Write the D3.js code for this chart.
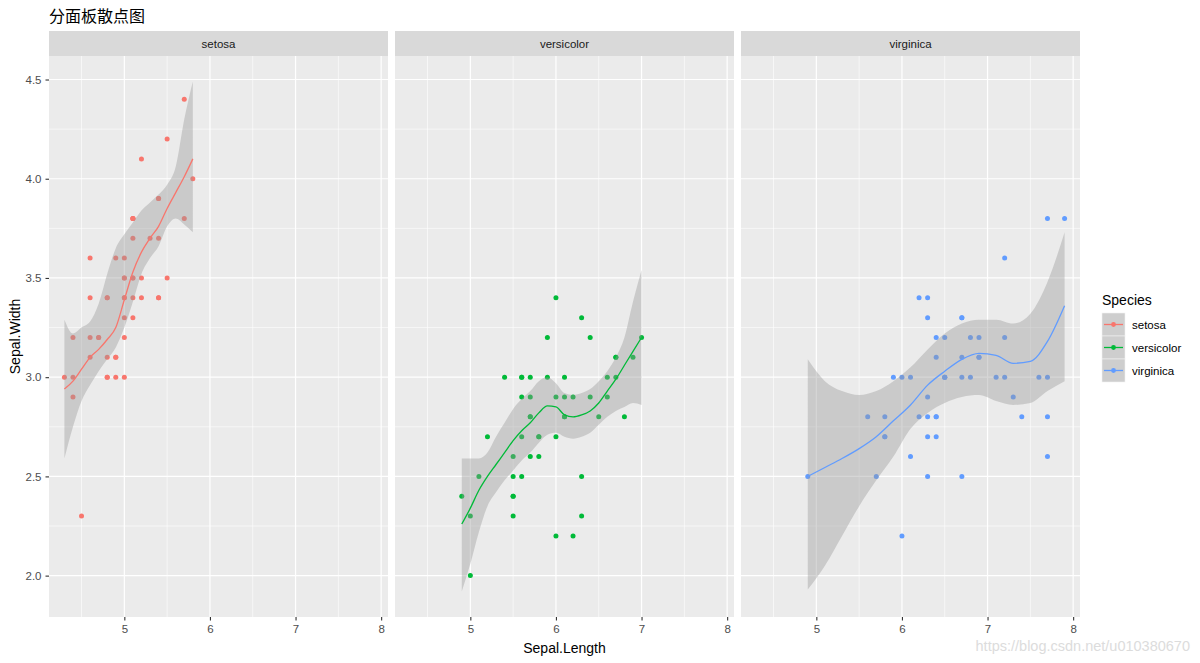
<!DOCTYPE html>
<html>
<head>
<meta charset="utf-8">
<script src="https://cdn.jsdelivr.net/npm/d3@7"></script>
<style>
  body { margin: 0; background: #fff; }
  svg text { font-family: "Liberation Sans", Arial, sans-serif; }
</style>
</head>
<body>
<div id="vis-container"></div>
<script>
// iris: Sepal.Length / Sepal.Width per species
const setosaLength = [5.1,4.9,4.7,4.6,5.0,5.4,4.6,5.0,4.4,4.9,5.4,4.8,4.8,4.3,5.8,5.7,5.4,5.1,5.7,5.1,5.4,5.1,4.6,5.1,4.8,5.0,5.0,5.2,5.2,4.7,4.8,5.4,5.2,5.5,4.9,5.0,5.5,4.9,4.4,5.1,5.0,4.5,4.4,5.0,5.1,4.8,5.1,4.6,5.3,5.0];
const setosaWidth  = [3.5,3.0,3.2,3.1,3.6,3.9,3.4,3.4,2.9,3.1,3.7,3.4,3.0,3.0,4.0,4.4,3.9,3.5,3.8,3.8,3.4,3.7,3.6,3.3,3.4,3.0,3.4,3.5,3.4,3.2,3.1,3.4,4.1,4.2,3.1,3.2,3.5,3.6,3.0,3.4,3.5,2.3,3.2,3.5,3.8,3.0,3.8,3.2,3.7,3.3];
const versicolorLength = [7.0,6.4,6.9,5.5,6.5,5.7,6.3,4.9,6.6,5.2,5.0,5.9,6.0,6.1,5.6,6.7,5.6,5.8,6.2,5.6,5.9,6.1,6.3,6.1,6.4,6.6,6.8,6.7,6.0,5.7,5.5,5.5,5.8,6.0,5.4,6.0,6.7,6.3,5.6,5.5,5.5,6.1,5.8,5.0,5.6,5.7,5.7,6.2,5.1,5.7];
const versicolorWidth  = [3.2,3.2,3.1,2.3,2.8,2.8,3.3,2.4,2.9,2.7,2.0,3.0,2.2,2.9,2.9,3.1,3.0,2.7,2.2,2.5,3.2,2.8,2.5,2.8,2.9,3.0,2.8,3.0,2.9,2.6,2.4,2.4,2.7,2.7,3.0,3.4,3.1,2.3,3.0,2.5,2.6,3.0,2.6,2.3,2.7,3.0,2.9,2.9,2.5,2.8];
const virginicaLength = [6.3,5.8,7.1,6.3,6.5,7.6,4.9,7.3,6.7,7.2,6.5,6.4,6.8,5.7,5.8,6.4,6.5,7.7,7.7,6.0,6.9,5.6,7.7,6.3,6.7,7.2,6.2,6.1,6.4,7.2,7.4,7.9,6.4,6.3,6.1,7.7,6.3,6.4,6.0,6.9,6.7,6.9,5.8,6.8,6.7,6.7,6.3,6.5,6.2,5.9];
const virginicaWidth  = [3.3,2.7,3.0,2.9,3.0,3.0,2.5,2.9,2.5,3.6,3.2,2.7,3.0,2.5,2.8,3.2,3.0,3.8,2.6,2.2,3.2,2.8,2.8,2.7,3.3,3.2,2.8,3.0,2.8,3.0,2.8,3.8,2.8,2.8,2.6,3.0,3.4,3.1,3.0,3.1,3.1,3.1,2.7,3.2,3.3,3.0,2.5,3.0,3.4,3.0];

// loess smooth (fit and 95% band)
const setosaSmoothX  = [4.3,4.4,4.5,4.6,4.7,4.8,4.9,5.0,5.1,5.2,5.3,5.4,5.5,5.6,5.7,5.8];
const setosaFit      = [2.94,2.98,3.04,3.10,3.14,3.19,3.25,3.39,3.53,3.63,3.70,3.76,3.85,3.93,4.01,4.10];
const setosaUpper    = [3.29,3.22,3.25,3.28,3.37,3.52,3.65,3.72,3.78,3.84,3.88,3.92,3.97,4.06,4.30,4.49];
const setosaLower    = [2.59,2.75,2.88,2.96,3.03,3.09,3.15,3.25,3.38,3.52,3.60,3.66,3.76,3.80,3.77,3.73];

const versicolorSmoothX = [4.9,5.0,5.1,5.2,5.3,5.4,5.5,5.6,5.7,5.8,5.9,6.0,6.1,6.2,6.3,6.4,6.5,6.6,6.7,6.8,6.9,7.0];
const versicolorFit     = [2.26,2.34,2.43,2.50,2.56,2.62,2.68,2.73,2.77,2.82,2.855,2.85,2.81,2.80,2.81,2.83,2.87,2.93,2.99,3.06,3.13,3.20];
const versicolorUpper   = [2.59,2.59,2.59,2.62,2.70,2.77,2.84,2.89,2.93,2.98,3.00,2.97,2.92,2.91,2.92,2.94,2.98,3.03,3.10,3.20,3.38,3.54];
const versicolorLower   = [1.92,2.06,2.22,2.35,2.42,2.48,2.53,2.58,2.62,2.67,2.71,2.72,2.70,2.69,2.70,2.72,2.76,2.80,2.83,2.85,2.87,2.86];

const virginicaSmoothX = [4.9,5.1,5.3,5.5,5.7,5.9,6.1,6.3,6.5,6.7,6.9,7.1,7.3,7.5,7.7,7.9];
const virginicaFit     = [2.50,2.545,2.59,2.64,2.70,2.78,2.86,2.96,3.03,3.09,3.12,3.11,3.07,3.08,3.18,3.36];
const virginicaUpper   = [3.09,2.98,2.93,2.91,2.93,2.98,3.05,3.14,3.22,3.27,3.29,3.29,3.27,3.32,3.48,3.73];
const virginicaLower   = [1.93,2.05,2.20,2.35,2.48,2.60,2.74,2.82,2.87,2.90,2.91,2.88,2.86,2.87,2.93,2.98];

const species = ["setosa", "versicolor", "virginica"];
const colors = ["#F8766D", "#00BA38", "#619CFF"];
const xTicks = [5, 6, 7, 8];
const yTicks = [2.0, 2.5, 3.0, 3.5, 4.0, 4.5];

const panels = [
  { name: "setosa", xs: setosaLength, ys: setosaWidth, sx: setosaSmoothX, fit: setosaFit, lo: setosaLower, hi: setosaUpper },
  { name: "versicolor", xs: versicolorLength, ys: versicolorWidth, sx: versicolorSmoothX, fit: versicolorFit, lo: versicolorLower, hi: versicolorUpper },
  { name: "virginica", xs: virginicaLength, ys: virginicaWidth, sx: virginicaSmoothX, fit: virginicaFit, lo: virginicaLower, hi: virginicaUpper }
];

const W = 1200, H = 663;
const panelLeft = [49, 395, 741], panelW = 339;
const stripTop = 31, panelTop = 56, panelBottom = 617;

const svg = d3.select("#vis-container")
  .append("svg")
    .attr("width", W)
    .attr("height", H);

// shared scales (ggplot default 5% expansion)
const allX = panels.flatMap(p => p.xs);
const allY = panels.flatMap(p => p.ys.concat(p.lo, p.hi));
const [x0, x1] = d3.extent(allX), [y0, y1] = d3.extent(allY);
const xPad = (x1 - x0) * 0.05, yPad = (y1 - y0) * 0.05;

const y = d3.scaleLinear()
  .domain([y0 - yPad, y1 + yPad])
  .range([panelBottom, panelTop]);

// Title
svg.append("text")
  .attr("x", 49)
  .attr("y", 22)
  .style("font-family", "'Noto Sans CJK SC', sans-serif")
  .style("font-size", "16px")
  .attr("fill", "#000")
  .text("分面板散点图");

panels.forEach((p, i) => {
  const left = panelLeft[i];
  const x = d3.scaleLinear()
    .domain([x0 - xPad, x1 + xPad])
    .range([left, left + panelW]);
  const g = svg.append("g");

  // strip
  g.append("rect")
    .attr("x", left).attr("y", stripTop)
    .attr("width", panelW).attr("height", panelTop - stripTop)
    .attr("fill", "#D9D9D9");
  g.append("text")
    .attr("x", left + panelW / 2)
    .attr("y", (stripTop + panelTop) / 2 + 4)
    .attr("text-anchor", "middle")
    .style("font-size", "11.5px")
    .attr("fill", "#1A1A1A")
    .text(p.name);

  // panel background + grid
  g.append("rect")
    .attr("x", left).attr("y", panelTop)
    .attr("width", panelW).attr("height", panelBottom - panelTop)
    .attr("fill", "#EBEBEB");

  const xMinor = d3.range(4.5, 8.01, 1);
  const yMinor = d3.range(2.25, 4.5, 0.5);
  g.selectAll(".xminor").data(xMinor).join("line")
    .attr("x1", d => x(d)).attr("x2", d => x(d))
    .attr("y1", panelTop).attr("y2", panelBottom)
    .attr("stroke", "#fff").attr("stroke-width", 0.6);
  g.selectAll(".yminor").data(yMinor).join("line")
    .attr("x1", left).attr("x2", left + panelW)
    .attr("y1", d => y(d)).attr("y2", d => y(d))
    .attr("stroke", "#fff").attr("stroke-width", 0.6);
  g.selectAll(".xmajor").data(xTicks).join("line")
    .attr("x1", d => x(d)).attr("x2", d => x(d))
    .attr("y1", panelTop).attr("y2", panelBottom)
    .attr("stroke", "#fff").attr("stroke-width", 1.2);
  g.selectAll(".ymajor").data(yTicks).join("line")
    .attr("x1", left).attr("x2", left + panelW)
    .attr("y1", d => y(d)).attr("y2", d => y(d))
    .attr("stroke", "#fff").attr("stroke-width", 1.2);

  // points
  g.selectAll(".pt").data(d3.zip(p.xs, p.ys)).join("circle")
    .attr("cx", d => x(d[0]))
    .attr("cy", d => y(d[1]))
    .attr("r", 2.5)
    .attr("fill", colors[i]);

  // smooth band + line
  const sm = p.sx.map((v, k) => ({ x: v, fit: p.fit[k], lo: p.lo[k], hi: p.hi[k] }));
  g.append("path")
    .datum(sm)
    .attr("fill", "#999999")
    .attr("fill-opacity", 0.4)
    .attr("d", d3.area().curve(d3.curveMonotoneX)
      .x(d => x(d.x)).y0(d => y(d.lo)).y1(d => y(d.hi)));
  g.append("path")
    .datum(sm)
    .attr("fill", "none")
    .attr("stroke", colors[i])
    .attr("stroke-width", 1.3)
    .attr("d", d3.line().curve(d3.curveMonotoneX)
      .x(d => x(d.x)).y(d => y(d.fit)));

  // x axis
  const xa = g.append("g")
    .attr("transform", `translate(0,${panelBottom})`)
    .call(d3.axisBottom(x).tickValues(xTicks).tickSize(3.5).tickPadding(4).tickFormat(d3.format("d")));
  xa.select(".domain").remove();
  xa.selectAll("line").attr("stroke", "#333").attr("stroke-width", 1.1);
  xa.selectAll("text").attr("fill", "#4D4D4D").style("font-size", "11.5px").style("font-family", "'Liberation Sans', Arial, sans-serif");
});

// y axis (left panel only)
const ya = svg.append("g")
  .attr("transform", `translate(${panelLeft[0]},0)`)
  .call(d3.axisLeft(y).tickValues(yTicks).tickSize(3.5).tickPadding(4).tickFormat(d3.format(".1f")));
ya.select(".domain").remove();
ya.selectAll("line").attr("stroke", "#333").attr("stroke-width", 1.1);
ya.selectAll("text").attr("fill", "#4D4D4D").style("font-size", "11.5px").style("font-family", "'Liberation Sans', Arial, sans-serif");

// axis titles
svg.append("text")
  .attr("x", (panelLeft[0] + panelLeft[2] + panelW) / 2)
  .attr("y", 653)
  .attr("text-anchor", "middle")
  .style("font-size", "14px")
  .text("Sepal.Length");
svg.append("text")
  .attr("transform", `translate(20,${(panelTop + panelBottom) / 2}) rotate(-90)`)
  .attr("text-anchor", "middle")
  .style("font-size", "14px")
  .text("Sepal.Width");

// legend
const lg = svg.append("g").attr("transform", "translate(1102,0)");
lg.append("text")
  .attr("x", 0).attr("y", 305)
  .style("font-size", "14px")
  .text("Species");
species.forEach((s, i) => {
  const ky = 313 + i * 23;
  lg.append("rect")
    .attr("x", 0).attr("y", ky).attr("width", 23).attr("height", 23)
    .attr("fill", "#CECECE").attr("stroke", "#F2F2F2").attr("stroke-width", 0.6);
  lg.append("line")
    .attr("x1", 2).attr("x2", 21).attr("y1", ky + 11.5).attr("y2", ky + 11.5)
    .attr("stroke", colors[i]).attr("stroke-width", 1.3);
  lg.append("circle")
    .attr("cx", 11.5).attr("cy", ky + 11.5).attr("r", 2.4)
    .attr("fill", colors[i]);
  lg.append("text")
    .attr("x", 30).attr("y", ky + 15.5)
    .style("font-size", "11.5px")
    .attr("fill", "#000")
    .text(s);
});

// watermark
svg.append("text")
  .attr("x", 1190).attr("y", 651)
  .attr("text-anchor", "end")
  .style("font-size", "14.5px")
  .attr("fill", "#DCDCDC")
  .text("https://blog.csdn.net/u010380670");
</script>
</body>
</html>
